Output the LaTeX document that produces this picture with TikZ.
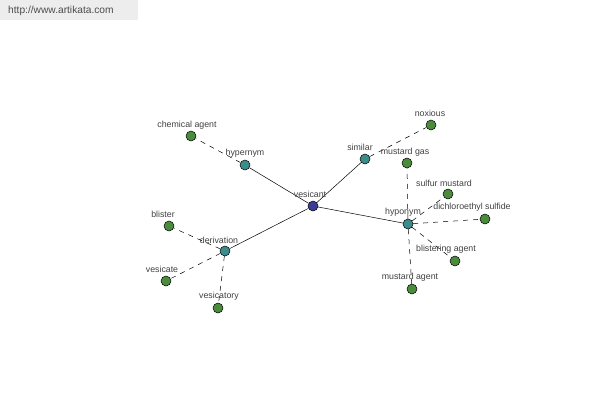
\documentclass[tikz,border=0pt]{standalone}
\usepackage{fontspec}
\setmainfont{Liberation Sans}
\begin{document}
\begin{tikzpicture}[x=1pt,y=-1pt,
  dot/.style={circle,draw=black,line width=0.5pt,minimum size=10pt,inner sep=0pt},
  leaf/.style={dot,fill=leafgreen},
  hub/.style={dot,fill=hubteal},
  root/.style={dot,fill=rootblue},
  lbl/.style={font=\fontsize{8.8}{10}\selectfont,text=black!75,inner sep=0pt},
  rel/.style={line width=0.5pt,black},
  drel/.style={line width=0.5pt,black,dash pattern=on 5pt off 5pt}]
\definecolor{leafgreen}{RGB}{74,140,60}
\definecolor{hubteal}{RGB}{60,140,140}
\definecolor{rootblue}{RGB}{60,60,150}
\useasboundingbox (0,0) rectangle (600,400);
\fill[black!7] (0,0) rectangle (138,20);
\node[anchor=west,font=\fontsize{10.2}{11}\selectfont,text=black!70,inner sep=0pt] (wm) at (8,11) {http://www.artikata.com};
% nodes
\node[root] (ves) at (313,206) {};
\node[hub] (hyper) at (245,165) {};
\node[hub] (sim) at (365,159) {};
\node[hub] (hypo) at (408,224) {};
\node[hub] (der) at (225,251) {};
\node[leaf] (chem) at (191,136) {};
\node[leaf] (nox) at (431,125) {};
\node[leaf] (mg) at (407,163) {};
\node[leaf] (sm) at (448,194) {};
\node[leaf] (dcs) at (485,219) {};
\node[leaf] (ba) at (455,261) {};
\node[leaf] (ma) at (412,289) {};
\node[leaf] (bl) at (169,226) {};
\node[leaf] (vc) at (166,281) {};
\node[leaf] (vy) at (218,308) {};
% edges
\draw[rel] (ves) -- (hyper);
\draw[rel] (ves) -- (sim);
\draw[rel] (ves) -- (hypo);
\draw[rel] (ves) -- (der);
\draw[drel] (hyper) -- (chem);
\draw[drel] (sim) -- (nox);
\draw[drel] (hypo) -- (mg);
\draw[drel] (hypo) -- (sm);
\draw[drel] (hypo) -- (dcs);
\draw[drel] (hypo) -- (ba);
\draw[drel] (hypo) -- (ma);
\draw[drel] (der) -- (bl);
\draw[drel] (der) -- (vc);
\draw[drel] (der) -- (vy);
% labels
\node[lbl] (lves) at (310,194) {vesicant};
\node[lbl] (lhyper) at (245,153) {hypernym};
\node[lbl] (lsim) at (360,147) {similar};
\node[lbl] (lhypo) at (403,212) {hyponym};
\node[lbl] (lder) at (219,240) {derivation};
\node[lbl] (lchem) at (187,125) {chemical agent};
\node[lbl] (lnox) at (430,113) {noxious};
\node[lbl] (lmg) at (405,152) {mustard gas};
\node[lbl] (lsm) at (444,183) {sulfur mustard};
\node[lbl] (ldcs) at (472,207) {dichloroethyl sulfide};
\node[lbl] (lba) at (446,249) {blistering agent};
\node[lbl] (lma) at (410,277) {mustard agent};
\node[lbl] (lbl) at (163,214) {blister};
\node[lbl] (lvc) at (162,269) {vesicate};
\node[lbl] (lvy) at (219,296) {vesicatory};
\end{tikzpicture}
\end{document}
